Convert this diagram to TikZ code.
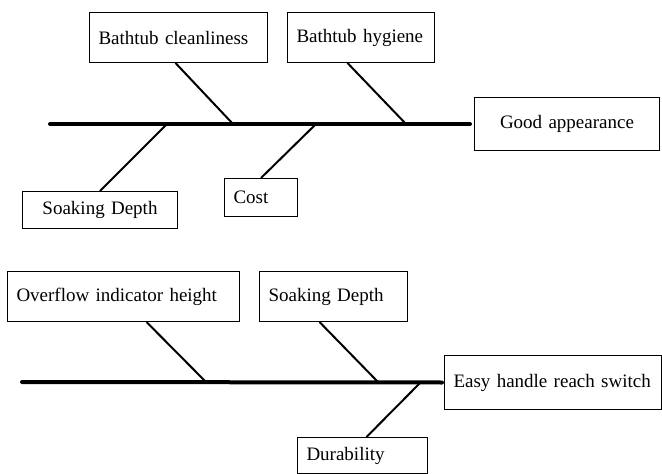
\documentclass[tikz,border=0pt]{standalone}
\usepackage{fontspec}
\setmainfont{Liberation Serif}
\usetikzlibrary{positioning}

\begin{document}
\begin{tikzpicture}[x=1pt,y=-1pt,
    cause/.style={draw, line width=1pt, inner xsep=9pt, inner ysep=0pt,
      anchor=north west, align=left, font=\fontsize{19}{22}\selectfont},
    spine/.style={line width=4pt, line cap=round},
    bone/.style={line width=2pt}]
  \useasboundingbox (0,0) rectangle (662,474);
  % upper diagram
  \node[cause, text width=160pt, minimum height=50pt] (clean) at (89,12) {Bathtub cleanliness};
  \node[cause, text width=129pt, minimum height=50pt] (hyg) at (287,12) {Bathtub hygiene};
  \node[cause, text width=167pt, minimum height=53pt, align=center] (good) at (474,97) {Good appearance};
  \node[cause, text width=137pt, minimum height=37pt, align=center] (soakA) at (22,191) {Soaking Depth};
  \node[cause, text width=55pt, minimum height=38pt] (cost) at (224,178) {Cost};
  \coordinate (tailA) at (50,124);
  \coordinate (jA1) at (233,124);
  \coordinate (jA2) at (406,124);
  \coordinate (jA3) at (167,124);
  \coordinate (jA4) at (316,124);
  \draw[spine, shorten >=4pt] (tailA) -- (good.west);
  \draw[bone] ([xshift=-3pt]clean.south) -- (jA1);
  \draw[bone] ([xshift=-13.5pt]hyg.south) -- (jA2);
  \draw[bone] (soakA.north) -- (jA3);
  \draw[bone] (cost.north) -- (jA4);
  % lower diagram
  \node[cause, text width=214pt, minimum height=50pt] (over) at (7,271) {Overflow indicator height};
  \node[cause, text width=130pt, minimum height=50pt] (soakB) at (259,271) {Soaking Depth};
  \node[cause, text width=199pt, minimum height=54pt] (easy) at (444,355) {\mbox{Easy handle reach switch}};
  \node[cause, text width=112pt, minimum height=36pt] (dura) at (297,437) {Durability};
  \coordinate (tailB) at (22,382);
  \coordinate (jB1) at (206,382);
  \coordinate (jB2) at (378,382);
  \coordinate (jB3) at (421,382);
  \draw[spine, shorten >=2pt] (tailB) -- (easy.west);
  \draw[bone] ([xshift=23pt]over.south) -- (jB1);
  \draw[bone] ([xshift=-14pt]soakB.south) -- (jB2);
  \draw[bone] ([xshift=4pt]dura.north) -- (jB3);
\end{tikzpicture}
\end{document}
